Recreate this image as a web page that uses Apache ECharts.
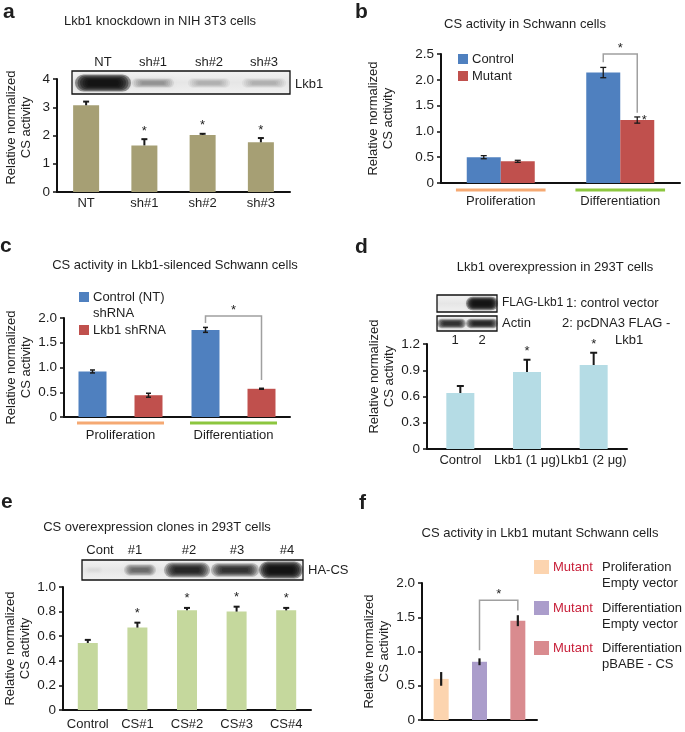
<!DOCTYPE html>
<html><head><meta charset="utf-8">
<script src="https://cdn.jsdelivr.net/npm/echarts@6/dist/echarts.min.js"></script>
<style>html,body{margin:0;padding:0;background:#fff}#c{width:685px;height:732px}</style>
</head><body><div id="c"></div>
<script>
// ---------- DATA ----------
// Panel a
var aCats = ['NT', 'sh#1', 'sh#2', 'sh#3'];
var aMean = [3.07, 1.65, 2.02, 1.76];
var aErr  = [0.13, 0.22, 0.04, 0.15];
var aSig  = [0, 1, 1, 1];
var aLanes = ['NT', 'sh#1', 'sh#2', 'sh#3'];
var aBand = [0.95, 0.35, 0.25, 0.25];
// Panel b
var bCats = ['Proliferation', 'Differentiation'];
var bControl = [0.50, 2.14];
var bControlErr = [0.03, 0.10];
var bMutant = [0.42, 1.22];
var bMutantErr = [0.02, 0.06];
var bMutantSig = [0, 1];
var bBracket = [[1, 2.34, 1, 1.36, 2.5]];
// Panel c
var cCats = ['Proliferation', 'Differentiation'];
var cControl = [0.92, 1.76];
var cControlErr = [0.03, 0.05];
var cShrna = [0.44, 0.57];
var cShrnaErr = [0.04, 0.01];
var cBracket = [[1, 1.90, 1, 0.75, 2.04]];
// Panel d
var dCats = ['Control', 'Lkb1 (1 \u03bcg)', 'Lkb1 (2 \u03bcg)'];
var dMean = [0.64, 0.88, 0.96];
var dErr  = [0.08, 0.14, 0.14];
var dSig  = [0, 1, 1];
// Panel e
var eCats = ['Control', 'CS#1', 'CS#2', 'CS#3', 'CS#4'];
var eMean = [0.545, 0.67, 0.81, 0.80, 0.81];
var eErr  = [0.025, 0.04, 0.02, 0.04, 0.02];
var eSig  = [0, 1, 1, 1, 1];
var eLanes = ['Cont', '#1', '#2', '#3', '#4'];
var eBand = [0.05, 0.55, 0.85, 0.78, 0.95];
// Panel f
var fCats = ['Proliferation Empty vector', 'Differentiation Empty vector', 'Differentiation pBABE - CS'];
var fMean = [0.60, 0.85, 1.45];
var fErr  = [0.10, 0.05, 0.08];
var fBracket = [[1, 1.02, 2, 1.60, 1.75]];
var fLegend = [['Proliferation', 'Empty vector'], ['Differentiation', 'Empty vector'], ['Differentiation', 'pBABE - CS']];

// ---------- STYLE ----------
var FF = 'Liberation Sans, Arial, sans-serif';
var TXT = '#1e1e1e';
var BLUE = '#4f80bf', RED = '#c0504d';
var fColors = ['#fcd4af', '#ab9dcb', '#d98b8f'];

function errBar(opt) {
  return function (params, api) {
    var ci = api.value(0), m = api.value(1), e = api.value(2), sig = api.value(3);
    var x = api.coord([ci, m])[0] + (opt.offset || 0);
    var lo = opt.mode === 'up' ? m : m - e;
    var yLo = api.coord([ci, lo])[1], yHi = api.coord([ci, m + e])[1];
    var st = {stroke: '#1a1a1a', lineWidth: opt.lw || 1.6};
    var ch = [{type: 'line', shape: {x1: x, y1: yLo, x2: x, y2: yHi}, style: st}];
    if (opt.cap) {
      ch.push({type: 'line', shape: {x1: x - opt.cap, y1: yHi, x2: x + opt.cap, y2: yHi}, style: st});
      if (opt.mode === 'both') ch.push({type: 'line', shape: {x1: x - opt.cap, y1: yLo, x2: x + opt.cap, y2: yLo}, style: st});
    }
    if (sig) {
      ch.push({type: 'text', x: opt.starRight ? x + 7 : x, y: opt.starRight ? yHi + 3 : yHi - (opt.starGap || 8),
        style: {text: '*', fontSize: 13, fontFamily: FF, fill: TXT, align: 'center', verticalAlign: 'middle'}});
    }
    return {type: 'group', children: ch};
  };
}
function bracket(opt) {
  return function (params, api) {
    var xa = api.coord([api.value(0), 0])[0] + opt.offA;
    var xb = api.coord([api.value(2), 0])[0] + opt.offB;
    var ya = api.coord([api.value(0), api.value(1)])[1];
    var yb = api.coord([api.value(2), api.value(3)])[1];
    var yt = api.coord([api.value(0), api.value(4)])[1];
    return {type: 'group', children: [
      {type: 'polyline', shape: {points: [[xa, ya], [xa, yt], [xb, yt], [xb, yb]]}, style: {stroke: '#a0a0a0', lineWidth: 1.5, fill: null}},
      {type: 'text', x: (xa + xb) / 2, y: yt - 6, style: {text: '*', fontSize: 13, fontFamily: FF, fill: TXT, align: 'center', verticalAlign: 'middle'}}
    ]};
  };
}
function underline(colors, frac, gap) {
  return function (params, api) {
    var c = api.coord([api.value(0), 0]);
    var w = api.size([1, 0])[0];
    return {type: 'line', shape: {x1: c[0] - w * frac, y1: c[1] + gap, x2: c[0] + w * frac, y2: c[1] + gap},
      style: {stroke: colors[params.dataIndex], lineWidth: 3}};
  };
}
function errData(mean, err, sig) {
  return mean.map(function (m, i) { return [i, m, err[i], sig ? sig[i] : 0]; });
}
function fmt(dec) { return function (v) { return v === 0 ? '0' : v.toFixed(dec); }; }

function xAx(i, cats, margin, show) {
  return {type: 'category', gridIndex: i, data: cats,
    axisLine: {lineStyle: {color: '#111', width: 2}}, axisTick: {show: false},
    axisLabel: {show: show !== false, margin: margin, fontSize: 13, color: TXT, fontFamily: FF, interval: 0}};
}
function yAx(i, max, interval, dec, gap, pad) {
  return {type: 'value', gridIndex: i, min: 0, max: max, interval: interval,
    splitLine: {show: false},
    axisLine: {show: true, lineStyle: {color: '#111', width: 2}},
    axisTick: {show: true, length: 4, lineStyle: {color: '#111', width: 1.5}},
    axisLabel: {fontSize: 13.5, color: TXT, fontFamily: FF, margin: 7, formatter: fmt(dec)},
    name: 'Relative normalized\nCS activity', nameLocation: 'middle', nameRotate: 90, nameGap: gap,
    nameTextStyle: {fontSize: 13, lineHeight: 15, color: TXT, fontFamily: FF, padding: pad || 0}};
}
function custom(xi, data, render, z) {
  return {type: 'custom', xAxisIndex: xi, yAxisIndex: xi, data: data, renderItem: render, clip: false, z: z || 5,
    encode: {x: 0, y: 1}, silent: true};
}

// ---------- GRAPHICS (titles, blots, legends) ----------
function txt(x, y, s, o) {
  o = o || {};
  return {type: 'text', x: x, y: y, z: 10, style: {text: s, fontSize: o.size || 13, fontWeight: o.bold ? 'bold' : 'normal',
    fontFamily: FF, fill: o.color || TXT, align: o.align || 'center', verticalAlign: 'middle'}};
}
function box(x, y, w, h) {
  return {type: 'rect', z: 8, shape: {x: x, y: y, width: w, height: h},
    style: {fill: {type: 'linear', x: 0, y: 0, x2: 0, y2: 1, colorStops: [{offset: 0, color: '#f3f3f3'}, {offset: 0.5, color: '#e6e6e6'}, {offset: 1, color: '#f1f1f1'}]},
      stroke: '#111', lineWidth: 1.3}};
}
function band(arr, x, y, w, h, a) {
  // stacked translucent ellipses-like rounded rects -> soft blot band
  var n = 6, la = 1 - Math.pow(1 - a, 1 / n);
  for (var k = 0; k < n; k++) {
    var t = k / (n - 1);
    var bw = (w + 6) * (1 - 0.45 * t), bh = h * (1.9 - 1.3 * t);
    arr.push({type: 'rect', z: 9, shape: {x: x + w / 2 - bw / 2, y: y - bh / 2, width: bw, height: bh, r: bh / 2},
      style: {fill: 'rgba(15,15,15,' + la.toFixed(3) + ')', shadowBlur: 3, shadowColor: 'rgba(15,15,15,' + (la * 0.6).toFixed(3) + ')'}});
  }
}
var g = [];
// panel letters
g.push(txt(3, 12, 'a', {size: 21, bold: true, align: 'left'}));
g.push(txt(355, 12, 'b', {size: 21, bold: true, align: 'left'}));
g.push(txt(0, 246, 'c', {size: 21, bold: true, align: 'left'}));
g.push(txt(355, 247, 'd', {size: 21, bold: true, align: 'left'}));
g.push(txt(1, 502, 'e', {size: 21, bold: true, align: 'left'}));
g.push(txt(359, 503, 'f', {size: 21, bold: true, align: 'left'}));
// titles
g.push(txt(160, 21, 'Lkb1 knockdown in NIH 3T3 cells'));
g.push(txt(525, 24, 'CS activity in Schwann cells'));
g.push(txt(175, 265, 'CS activity in Lkb1-silenced Schwann cells'));
g.push(txt(555, 267, 'Lkb1 overexpression in 293T cells'));
g.push(txt(157, 527, 'CS overexpression clones in 293T cells'));
g.push(txt(540, 533, 'CS activity in Lkb1 mutant Schwann cells'));
// blot a
var aLaneX = [103, 153, 209, 264], aBandW = [50, 36, 36, 38];
g.push(box(72, 71, 218, 23));
aLanes.forEach(function (l, i) {
  g.push(txt(aLaneX[i], 62, l));
  band(g, aLaneX[i] - aBandW[i] / 2, 83, aBandW[i], i === 0 ? 9 : 5, aBand[i]);
});
g.push(txt(295, 84, 'Lkb1', {align: 'left'}));
// blot d
g.push(box(437, 295, 60, 17));
band(g, 469, 303.5, 26, 7, 0.95);
g.push(box(437, 316, 60, 15));
band(g, 440, 323.5, 23, 5, 0.8);
band(g, 469, 323.5, 26, 5, 0.85);
g.push(txt(502, 303, 'FLAG-Lkb1', {align: 'left', size: 12}));
g.push(txt(502, 323, 'Actin', {align: 'left'}));
g.push(txt(566, 303, '1: control vector', {align: 'left'}));
g.push(txt(562, 323, '2: pcDNA3 FLAG -', {align: 'left'}));
g.push(txt(615, 340, 'Lkb1', {align: 'left'}));
g.push(txt(455, 340, '1'));
g.push(txt(482, 340, '2'));
// blot e
var eLaneX = [100, 135, 189, 237, 287], eBandX = [94, 140, 187, 235, 281], eBandW = [12, 26, 40, 42, 38], eBandH = [4, 6, 8, 7, 9];
g.push(box(82, 560, 221, 20));
eLanes.forEach(function (l, i) {
  g.push(txt(eLaneX[i], 550, l));
  band(g, eBandX[i] - eBandW[i] / 2, 570, eBandW[i], eBandH[i], eBand[i]);
});
g.push(txt(308, 570, 'HA-CS', {align: 'left'}));
// legend b
g.push({type: 'rect', z: 10, shape: {x: 458, y: 54, width: 10, height: 10}, style: {fill: BLUE}});
g.push({type: 'rect', z: 10, shape: {x: 458, y: 71, width: 10, height: 10}, style: {fill: RED}});
g.push(txt(472, 59, 'Control', {align: 'left'}));
g.push(txt(472, 76, 'Mutant', {align: 'left'}));
// legend c
g.push({type: 'rect', z: 10, shape: {x: 79, y: 292, width: 10, height: 10}, style: {fill: BLUE}});
g.push({type: 'rect', z: 10, shape: {x: 79, y: 325, width: 10, height: 10}, style: {fill: RED}});
g.push(txt(93, 297, 'Control (NT)', {align: 'left'}));
g.push(txt(93, 313, 'shRNA', {align: 'left'}));
g.push(txt(93, 330, 'Lkb1 shRNA', {align: 'left'}));
// legend f
var fLegY = [567, 608, 648];
fLegend.forEach(function (l, i) {
  g.push({type: 'rect', z: 10, shape: {x: 534, y: fLegY[i] - 7, width: 15, height: 14}, style: {fill: fColors[i]}});
  g.push(txt(553, fLegY[i], 'Mutant', {align: 'left', color: '#c8203a'}));
  g.push(txt(602, fLegY[i], l[0], {align: 'left'}));
  g.push(txt(602, fLegY[i] + 16, l[1], {align: 'left'}));
});

var option = {
  animation: false,
  backgroundColor: '#fff',
  textStyle: {fontFamily: FF},
  grid: [
    {left: 57, top: 79, width: 233, height: 113},
    {left: 441, top: 54, width: 239, height: 129},
    {left: 64, top: 318, width: 226, height: 99},
    {left: 427, top: 344, width: 200, height: 105},
    {left: 63, top: 587, width: 248, height: 123},
    {left: 422, top: 583, width: 115, height: 137}
  ],
  xAxis: [
    xAx(0, aCats, 5), xAx(1, bCats, 12), xAx(2, cCats, 12), xAx(3, dCats, 5), xAx(4, eCats, 8), xAx(5, fCats, 5, false)
  ],
  yAxis: [
    yAx(0, 4, 1, 0, 23, [0, 0, 0, 16]),
    yAx(1, 2.5, 0.5, 1, 45),
    yAx(2, 2, 0.5, 1, 30),
    yAx(3, 1.2, 0.3, 1, 30, [0, 0, 0, 40]),
    yAx(4, 1, 0.2, 1, 29),
    yAx(5, 2, 0.5, 1, 27)
  ],
  graphic: {elements: g},
  series: [
    {type: 'bar', name: 'a', xAxisIndex: 0, yAxisIndex: 0, data: aMean, barWidth: 26, itemStyle: {color: '#a69f74'}},
    custom(0, errData(aMean, aErr, aSig), errBar({mode: 'up', cap: 3, lw: 2, starGap: 8})),
    {type: 'bar', name: 'Control', xAxisIndex: 1, yAxisIndex: 1, data: bControl, barWidth: 34, barGap: 0, itemStyle: {color: BLUE}},
    {type: 'bar', name: 'Mutant', xAxisIndex: 1, yAxisIndex: 1, data: bMutant, barWidth: 34, barGap: 0, itemStyle: {color: RED}},
    custom(1, errData(bControl, bControlErr), errBar({mode: 'both', cap: 3, offset: -17, lw: 1.3})),
    custom(1, errData(bMutant, bMutantErr, bMutantSig), errBar({mode: 'both', cap: 3, offset: 17, lw: 1.3, starRight: true})),
    custom(1, [[0, 0], [1, 0]], underline(['#f5a973', '#8cc63f'], 0.375, 7)),
    custom(1, bBracket, bracket({offA: -17, offB: 17})),
    {type: 'bar', name: 'Control (NT) shRNA', xAxisIndex: 2, yAxisIndex: 2, data: cControl, barWidth: 28, barGap: '100%', itemStyle: {color: BLUE}},
    {type: 'bar', name: 'Lkb1 shRNA', xAxisIndex: 2, yAxisIndex: 2, data: cShrna, barWidth: 28, barGap: '100%', itemStyle: {color: RED}},
    custom(2, errData(cControl, cControlErr), errBar({mode: 'both', cap: 2.5, offset: -28, lw: 1.5})),
    custom(2, errData(cShrna, cShrnaErr), errBar({mode: 'both', cap: 2.5, offset: 28, lw: 1.5})),
    custom(2, [[0, 0], [1, 0]], underline(['#f5a973', '#8cc63f'], 0.385, 6)),
    custom(2, cBracket, bracket({offA: -28, offB: 28})),
    {type: 'bar', name: 'd', xAxisIndex: 3, yAxisIndex: 3, data: dMean, barWidth: 28, itemStyle: {color: '#b5dce5'}},
    custom(3, errData(dMean, dErr, dSig), errBar({mode: 'up', cap: 3.5, lw: 2, starGap: 8})),
    {type: 'bar', name: 'e', xAxisIndex: 4, yAxisIndex: 4, data: eMean, barWidth: 20, itemStyle: {color: '#c5d89d'}},
    custom(4, errData(eMean, eErr, eSig), errBar({mode: 'up', cap: 3, lw: 2, starGap: 9})),
    {type: 'bar', name: 'f', xAxisIndex: 5, yAxisIndex: 5, barWidth: 15,
      data: fMean.map(function (v, i) { return {value: v, itemStyle: {color: fColors[i]}}; })},
    custom(5, errData(fMean, fErr), errBar({mode: 'both', lw: 2.2})),
    custom(5, fBracket, bracket({offA: 0, offB: 0}))
  ]
};
var chart = echarts.init(document.getElementById('c'), null, {renderer: 'canvas'});
chart.setOption(option);
</script>
</body></html>
